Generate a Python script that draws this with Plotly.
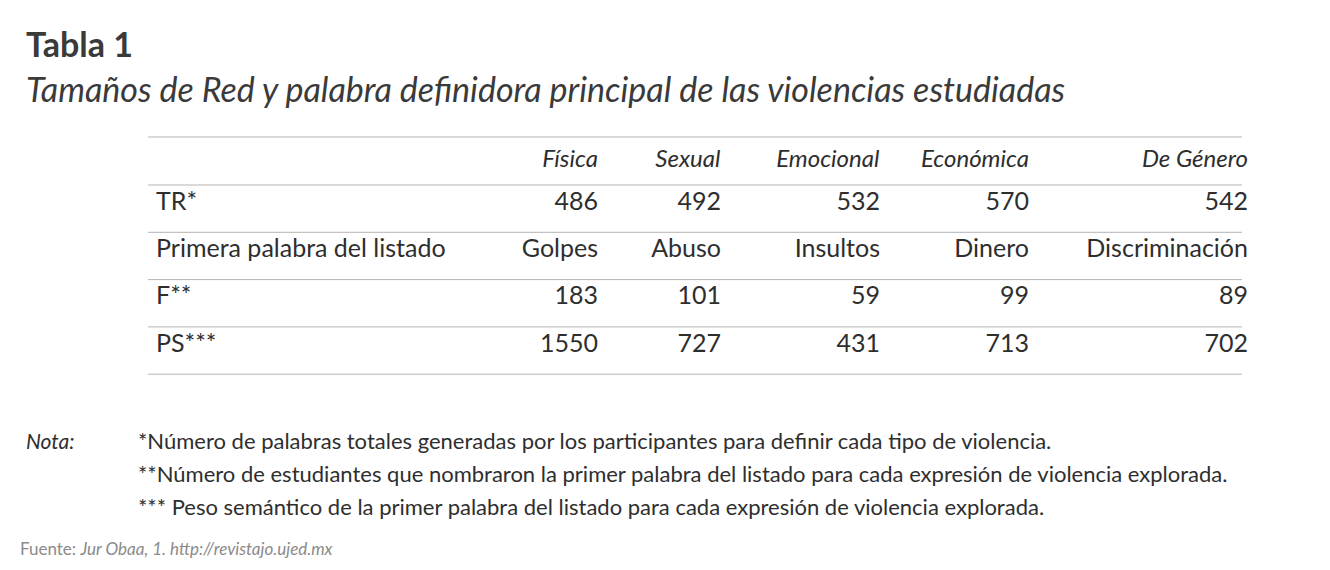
import plotly.graph_objects as go

# table content
columns = ["", "Física", "Sexual", "Emocional", "Económica", "De Género"]
row_labels = ["TR*", "Primera palabra del listado", "F**", "PS***"]
tr_values = ["486", "492", "532", "570", "542"]
first_words = ["Golpes", "Abuso", "Insultos", "Dinero", "Discriminación"]
f_values = ["183", "101", "59", "99", "89"]
ps_values = ["1550", "727", "431", "713", "702"]
notes = [
    "*Número de palabras totales generadas por los participantes para definir cada tipo de violencia.",
    "**Número de estudiantes que nombraron la primer palabra del listado para cada expresión de violencia explorada.",
    "*** Peso semántico de la primer palabra del listado para cada expresión de violencia explorada.",
]

ink = "#2e2e2e"
font_family = "Lato, 'Open Sans', sans-serif"

rows = [tr_values, first_words, f_values, ps_values]
cell_cols = [row_labels] + [[r[i] for r in rows] for i in range(len(tr_values))]

W, H = 1330, 570
OFF = 8  # page offset seen in the render
x0, x1 = 148 - OFF, 1242 - OFF
top, head_h, row_h = 137 - OFF, 48, 47.3
bottom = top + head_h + row_h * len(row_labels)

fig = go.Figure(go.Table(
    domain=dict(x=[x0 / W, (x1 + 14) / W], y=[1 - (bottom + 2) / H, 1 - (top - 2) / H]),
    columnwidth=[352, 106, 123, 159, 149, 219],
    header=dict(values=[f"<i>{c}</i>" if c else "" for c in columns],
                align=["left"] + ["right"] * 5, height=head_h,
                fill_color="white", line_color="white",
                font=dict(family=font_family, size=24, color=ink)),
    cells=dict(values=cell_cols, align=["left"] + ["right"] * 5, height=row_h,
               fill_color="white", line_color="white",
               font=dict(family=font_family, size=25, color=ink)),
))

# horizontal rules
for k in range(len(row_labels) + 2):
    y = top if k == 0 else top + head_h + row_h * (k - 1)
    fig.add_shape(type="line", xref="paper", yref="paper",
                  x0=x0 / W, x1=x1 / W, y0=1 - y / H, y1=1 - y / H,
                  line=dict(color="#b5b5b5", width=1))

def text(s, x, y, size, color=ink):
    fig.add_annotation(text=s, x=(x - OFF) / W, y=1 - (y - OFF) / H, xref="paper", yref="paper",
                       xanchor="left", yanchor="middle", showarrow=False,
                       font=dict(family=font_family, size=size, color=color))

text("<b>Tabla 1</b>", 24, 44, 34, "#3a3a3a")
text("<i>Tamaños de Red y palabra definidora principal de las violencias estudiadas</i>", 24, 88, 34, "#3a3a3a")
text("<i>Nota:</i>", 24, 440, 21)
for i, note in enumerate(notes):
    text(note, 136, 440 + 33.5 * i, 22)
text("Fuente: <i>Jur Obaa, 1. http://revistajo.ujed.mx</i>", 18, 548, 17, "#8a8a8a")

fig.update_layout(width=W, height=H, margin=dict(l=0, r=0, t=0, b=0),
                  paper_bgcolor="white", plot_bgcolor="white")
fig.write_html("out.html")
